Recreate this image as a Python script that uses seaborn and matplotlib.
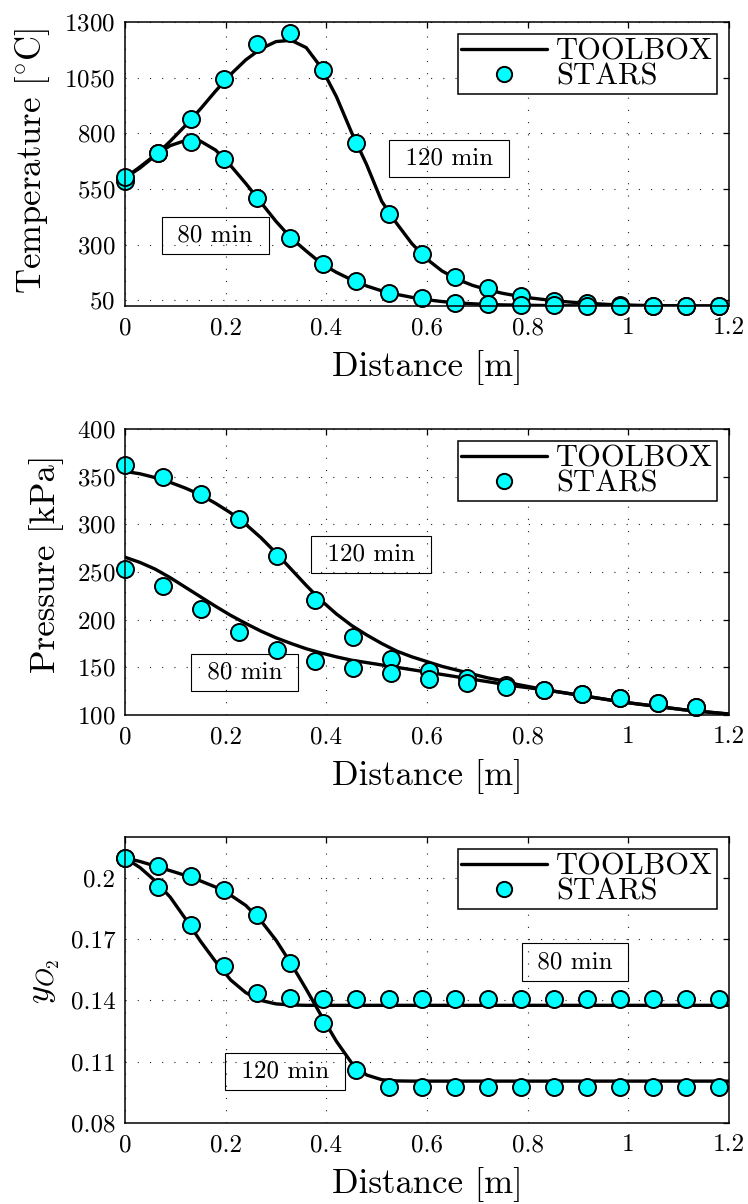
import matplotlib
matplotlib.use("Agg")
import matplotlib.pyplot as plt
import seaborn as sns
from matplotlib.lines import Line2D

# ---------------------------------------------------------------- data
# simulator (STARS) sample locations along the tube [m]
stars_x_temp = [0.0, 0.0656, 0.1311, 0.1967, 0.2622, 0.3278, 0.3933, 0.4589,
                0.5244, 0.5900, 0.6556, 0.7211, 0.7867, 0.8522, 0.9178,
                0.9833, 1.0489, 1.1144, 1.1800]
stars_x_pres = [0.0, 0.0756, 0.1512, 0.2268, 0.3024, 0.3780, 0.4536, 0.5292,
                0.6048, 0.6804, 0.7560, 0.8316, 0.9072, 0.9828, 1.0584, 1.1340]
stars_x_o2 = stars_x_temp

# temperature [deg C]
stars_temp_120 = [585, 712, 863, 1043, 1203, 1252, 1083, 759, 440, 257, 156,
                  104, 71, 47, 40, 29, 26, 26, 26]
stars_temp_80 = [605, 712, 762, 686, 511, 330, 212, 137, 85, 59, 40, 34, 29,
                 29, 27, 26, 26, 26, 26]

# pressure [kPa]
stars_pres_120 = [362.5, 349.6, 332.0, 305.5, 266.3, 220.8, 181.6, 158.5,
                  146.6, 138.6, 131.5, 126.3, 122.0, 117.5, 112.3, 108.0]
stars_pres_80 = [253.3, 234.8, 211.0, 187.2, 168.3, 157.0, 149.0, 143.8,
                 137.5, 133.3, 129.8, 126.3, 122.0, 117.5, 112.3, 108.0]

# oxygen mole fraction
stars_o2_120 = [0.2098, 0.2057, 0.2010, 0.1940, 0.1817, 0.1585, 0.1290,
                0.1061, 0.0976, 0.0976, 0.0976, 0.0976, 0.0976, 0.0976,
                0.0976, 0.0976, 0.0976, 0.0976, 0.0976]
stars_o2_80 = [0.2098, 0.1956, 0.1768, 0.1569, 0.1438, 0.1414, 0.1409,
               0.1409, 0.1409, 0.1409, 0.1409, 0.1409, 0.1409, 0.1409,
               0.1409, 0.1409, 0.1409, 0.1409, 0.1409]

# toolbox solution on the output grid [m]
toolbox_x = [0.00, 0.03, 0.06, 0.09, 0.12, 0.15, 0.18, 0.21, 0.24, 0.27,
             0.30, 0.33, 0.36, 0.39, 0.42, 0.45, 0.48, 0.51, 0.54, 0.57,
             0.60, 0.63, 0.66, 0.69, 0.72, 0.75, 0.78, 0.81, 0.84, 0.87,
             0.90, 0.93, 0.96, 0.99, 1.02, 1.05, 1.08, 1.11, 1.14, 1.17,
             1.20]

toolbox_temp_120 = [600, 645, 700, 765, 835, 910, 990, 1065, 1130, 1180,
                    1212, 1218, 1185, 1095, 965, 805, 660, 495, 395, 305,
                    235, 182, 145, 118, 98, 82, 70, 60, 52, 45,
                    40, 36, 32, 30, 28, 27, 26, 26, 25, 25,
                    25]
toolbox_temp_80 = [600, 650, 703, 745, 768, 765, 725, 655, 575, 490,
                   405, 330, 272, 216, 176, 143, 115, 93, 77, 64,
                   53, 45, 39, 35, 32, 30, 29, 28, 27, 26,
                   26, 26, 26, 25, 25, 25, 25, 25, 25, 25,
                   25]

toolbox_pres_120 = [355.5, 353, 349, 344, 338, 331, 322, 312, 300, 286,
                    270, 253, 236, 220, 206, 194, 184, 175, 167, 161,
                    156, 151, 147, 143, 139, 136, 132, 129, 126, 123.5,
                    121, 118.5, 116, 113.5, 111.5, 109.5, 107.5, 105.5, 104,
                    102.5, 101]
toolbox_pres_80 = [265.5, 260, 253, 244, 234, 224, 214, 204.5, 196, 188,
                   181, 175, 169.5, 165, 161, 157.5, 155, 152.5, 150, 147.5,
                   145, 142.5, 140, 137.5, 135, 132.5, 130, 128, 126, 123.5,
                   121, 118.5, 116, 113.5, 111.5, 109.5, 107.5, 105.5, 104,
                   102.5, 101]

toolbox_o2_120 = [0.2098, 0.2080, 0.2058, 0.2035, 0.2012, 0.1985, 0.1955,
                  0.1915, 0.1865, 0.1790, 0.1695, 0.1580, 0.1455, 0.1325,
                  0.1200, 0.1095, 0.1035, 0.1012, 0.1006, 0.1005, 0.1005,
                  0.1005, 0.1005, 0.1005, 0.1005, 0.1005, 0.1005, 0.1005,
                  0.1005, 0.1005, 0.1005, 0.1005, 0.1005, 0.1005, 0.1005,
                  0.1005, 0.1005, 0.1005, 0.1005, 0.1005, 0.1005]
toolbox_o2_80 = [0.2098, 0.2050, 0.1985, 0.1905, 0.1800, 0.1690, 0.1590,
                 0.1500, 0.1438, 0.1400, 0.1383, 0.1378, 0.1376, 0.1376,
                 0.1376, 0.1376, 0.1376, 0.1376, 0.1376, 0.1376, 0.1376,
                 0.1376, 0.1376, 0.1376, 0.1376, 0.1376, 0.1376, 0.1376,
                 0.1376, 0.1376, 0.1376, 0.1376, 0.1376, 0.1376, 0.1376,
                 0.1376, 0.1376, 0.1376, 0.1376, 0.1376, 0.1376]

x_ticks = [0, 0.2, 0.4, 0.6, 0.8, 1.0, 1.2]
x_tick_labels = ["0", "0.2", "0.4", "0.6", "0.8", "1", "1.2"]
temp_ticks = [50, 300, 550, 800, 1050, 1300]
pres_ticks = [100, 150, 200, 250, 300, 350, 400]
o2_ticks = [0.08, 0.11, 0.14, 0.17, 0.2]
o2_tick_labels = ["0.08", "0.11", "0.14", "0.17", "0.2"]

# ---------------------------------------------------------------- style
sns.set_theme(style="white")
plt.rcParams.update({
    "font.family": ["cmr10"],
    "mathtext.fontset": "cm",
    "axes.formatter.use_mathtext": True,
    "axes.unicode_minus": False,
    "axes.edgecolor": "black",
    "axes.linewidth": 1.1,
    "xtick.direction": "in",
    "ytick.direction": "in",
    "xtick.top": True,
    "ytick.right": True,
    "xtick.color": "black",
    "ytick.color": "black",
    "xtick.major.size": 4,
    "ytick.major.size": 4,
    "xtick.major.width": 0.9,
    "ytick.major.width": 0.9,
    "text.color": "black",
    "axes.labelcolor": "black",
})

CYAN = "#00FFFF"
TICK_FS = 18
LABEL_FS = 25
LEGEND_FS = 22

fig = plt.figure(figsize=(7.48, 12.04), dpi=100)
W, H = 748.0, 1204.0


def make_axes(top_px, bottom_px):
    return fig.add_axes([125 / W, 1 - bottom_px / H, 604 / W,
                         (bottom_px - top_px) / H])


def draw_panel(ax, xs, mk_a, mk_b, line_a, line_b):
    for ys in (line_a, line_b):
        sns.lineplot(x=toolbox_x, y=ys, ax=ax, color="black", linewidth=2.4,
                     estimator=None, sort=False, legend=False, zorder=2)
    for ys in (mk_a, mk_b):
        sns.scatterplot(x=xs, y=ys, ax=ax, s=150, color=CYAN,
                        edgecolor="black", linewidth=1.4, zorder=3,
                        legend=False, clip_on=False)
    ax.set_xlim(0, 1.2)
    ax.set_xticks(x_ticks)
    ax.set_xticklabels(x_tick_labels)
    ax.grid(True, color="#222222", linestyle=(0, (1, 10)), linewidth=0.8)
    ax.set_axisbelow(True)
    ax.tick_params(labelsize=TICK_FS, pad=7)
    ax.tick_params(axis="x", pad=8)
    ax.set_xlabel("Distance [m]", fontsize=LABEL_FS, labelpad=8)
    for s in ax.spines.values():
        s.set_visible(True)
        s.set_zorder(4)
    handles = [Line2D([], [], color="black", lw=2.4),
               Line2D([], [], linestyle="none", marker="o", markersize=11,
                      markerfacecolor=CYAN, markeredgecolor="black",
                      markeredgewidth=1.4)]
    leg = ax.legend(handles, ["TOOLBOX", "STARS"], loc="upper right",
                    fontsize=LEGEND_FS, frameon=True, fancybox=False,
                    framealpha=1, edgecolor="black", handlelength=2.8,
                    handletextpad=0.3, labelspacing=-0.08, borderpad=0.12,
                    borderaxespad=0.4)
    leg.get_frame().set_linewidth(1.1)
    leg.set_zorder(5)


def label_box(ax, x, y, text):
    ax.text(x, y, text, ha="center", va="center", fontsize=TICK_FS, zorder=1,
            bbox=dict(boxstyle="square,pad=0.3", facecolor="none",
                      edgecolor="black", linewidth=0.8))


# temperature
ax1 = make_axes(22, 306)
draw_panel(ax1, stars_x_temp, stars_temp_120, stars_temp_80,
           toolbox_temp_120, toolbox_temp_80)
ax1.set_ylim(25, 1300)
ax1.set_yticks(temp_ticks)
ax1.set_ylabel(r"Temperature [$^{\circ}$C]", fontsize=LABEL_FS)
label_box(ax1, 0.644, 689, " 120 min ")
label_box(ax1, 0.179, 341, " 80 min ")

# pressure
ax2 = make_axes(429, 715)
draw_panel(ax2, stars_x_pres, stars_pres_120, stars_pres_80,
           toolbox_pres_120, toolbox_pres_80)
ax2.set_ylim(100, 400)
ax2.set_yticks(pres_ticks)
ax2.set_ylabel("Pressure [kPa]", fontsize=LABEL_FS)
label_box(ax2, 0.489, 268.5, " 120 min ")
label_box(ax2, 0.238, 144.6, " 80 min ")

# oxygen
ax3 = make_axes(837, 1123)
draw_panel(ax3, stars_x_o2, stars_o2_120, stars_o2_80,
           toolbox_o2_120, toolbox_o2_80)
ax3.set_ylim(0.08, 0.22)
ax3.set_yticks(o2_ticks)
ax3.set_yticklabels(o2_tick_labels)
ax3.set_ylabel(r"$y_{O_2}$", fontsize=LABEL_FS)
label_box(ax3, 0.894, 0.1588, " 80 min ")
label_box(ax3, 0.318, 0.1052, " 120 min ")

# axis label placement
for ax, xpos, yfrac in ((ax1, 33, 0.51), (ax2, 47, 0.528), (ax3, 46, 0.495)):
    ax.yaxis.set_label_coords((xpos - 125) / 604.0, yfrac)
    ax.yaxis.label.set_va("center")
    ax.yaxis.label.set_ha("center")

fig.savefig("out.png", dpi=100)
